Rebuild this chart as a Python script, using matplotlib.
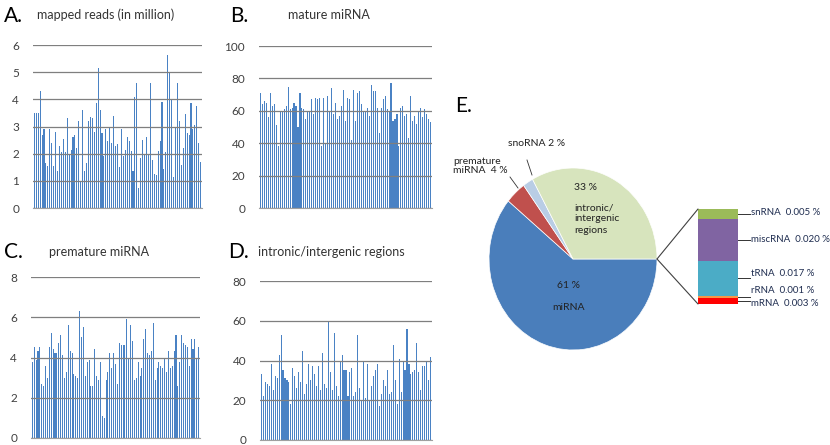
import numpy as np
import matplotlib.pyplot as plt
from matplotlib.patches import ConnectionPatch

plt.rcParams['font.family'] = ['Lato', 'DejaVu Sans']

# per-sample values
mapped_reads = [3.5, 3.5, 3.5, 4.3, 2.7, 2.9, 1.65, 1.55, 2.9, 2.4,
                1.55, 2.8, 1.35, 2.3, 2.05, 2.55, 2.05, 3.3, 2.0, 2.15,
                2.6, 2.7, 2.2, 3.2, 1.0, 3.6, 1.35, 1.65, 3.2, 3.35,
                3.3, 2.8, 3.85, 5.15, 3.6, 2.75, 1.9, 2.9, 2.45, 3.0,
                2.4, 3.4, 2.3, 2.35, 1.5, 2.9, 1.9, 2.15, 2.6, 2.45,
                2.1, 1.35, 4.1, 4.6, 0.75, 1.85, 2.5, 2.0, 2.6, 2.0,
                4.6, 1.75, 1.25, 1.2, 2.1, 2.45, 3.9, 1.45, 2.05, 5.65,
                5.0, 4.0, 1.15, 3.0, 4.6, 3.2, 1.6, 2.2, 3.45, 2.75,
                2.7, 3.85, 2.9, 3.05, 3.75, 2.4, 1.7]

mature_mirna = [71, 64, 66, 65, 56, 71, 63, 64, 51, 38,
                59, 60, 61, 63, 75, 61, 62, 65, 63, 50,
                71, 62, 61, 55, 60, 59, 67, 58, 68, 67,
                68, 38, 68, 40, 69, 60, 74, 58, 65, 55,
                57, 63, 73, 54, 68, 67, 42, 73, 54, 71,
                72, 64, 60, 60, 62, 57, 76, 72, 72, 62,
                46, 62, 67, 69, 61, 59, 77, 54, 55, 58,
                38, 62, 63, 57, 58, 43, 69, 54, 57, 52,
                60, 62, 56, 61, 58, 55, 53]

premature_mirna = [3.8, 4.5, 3.9, 4.3, 4.5, 2.7, 2.6, 3.6, 3.0, 4.5,
                   5.2, 4.4, 4.2, 4.2, 4.7, 5.1, 4.1, 3.0, 3.3, 5.6,
                   4.3, 4.2, 3.2, 3.1, 3.0, 6.3, 5.0, 5.5, 3.1, 3.8,
                   3.9, 2.6, 2.6, 4.4, 3.1, 2.9, 3.8, 1.1, 1.0, 2.9,
                   3.3, 4.2, 3.5, 4.2, 3.7, 2.7, 4.7, 4.6, 4.6, 4.6,
                   5.9, 4.0, 5.6, 4.8, 2.9, 3.0, 3.8, 3.1, 3.5, 4.9,
                   5.4, 4.2, 4.1, 4.3, 5.7, 2.9, 3.5, 3.8, 3.6, 3.5,
                   4.0, 3.3, 4.3, 3.5, 3.6, 4.3, 5.1, 2.6, 3.8, 5.1,
                   4.7, 4.6, 4.5, 3.6, 4.9, 4.4, 4.9, 4.0, 4.5]

intronic = [33, 22, 29, 28, 27, 38, 25, 32, 31, 43,
            53, 35, 31, 30, 29, 18, 36, 32, 26, 34,
            29, 45, 23, 28, 38, 30, 37, 33, 27, 37,
            25, 44, 28, 26, 60, 34, 25, 54, 27, 22,
            39, 43, 35, 35, 22, 34, 36, 22, 24, 53,
            26, 20, 40, 21, 38, 20, 27, 32, 35, 38,
            17, 23, 30, 27, 35, 23, 24, 48, 30, 18,
            41, 24, 39, 35, 56, 38, 33, 34, 35, 49,
            34, 25, 37, 37, 40, 30, 42]

# pie of read classes (%)
pie_labels = ['miRNA', 'premature miRNA', 'snoRNA', 'intronic/intergenic regions']
pie_values = [61, 4, 2, 33]
pie_colors = ['#4a7ebb', '#c0504d', '#b9cde5', '#d7e4bd']

# breakdown of the small classes (%), bottom to top
other_labels = ['mRNA', 'rRNA', 'tRNA', 'miscRNA', 'snRNA']
other_values = [0.003, 0.001, 0.017, 0.020, 0.005]
other_colors = ['#ff0000', '#f79646', '#4bacc6', '#8064a2', '#9bbb59']

W, H = 830, 445
fig = plt.figure(figsize=(W / 100, H / 100), dpi=100)


def px_axes(left, top, right, bottom):
    # axes placed by pixel edges of the 830x445 canvas
    return fig.add_axes([left / W, 1 - bottom / H, (right - left) / W, (bottom - top) / H])


def px_text(x, y, s, **kw):
    fig.text(x / W, 1 - y / H, s, **kw)


def draw_bars(ax, values, ymax, step):
    x = np.arange(len(values))
    ax.bar(x, values, width=0.55, color='#4a82c4', zorder=1, antialiased=False)
    ax.set_xlim(-0.7, len(values) - 0.3)
    ax.set_ylim(0, ymax)
    ax.set_yticks(np.arange(0, ymax + 1, step))
    ax.set_xticks([])
    ax.set_axisbelow(False)
    ax.yaxis.grid(True, color='#7f7f7f', lw=0.9)
    for side in ['top', 'right', 'left']:
        ax.spines[side].set_visible(False)
    ax.spines['bottom'].set_color('#a0a0a0')
    ax.tick_params(axis='y', length=0, labelsize=8.5, labelcolor='#404040', pad=10)


ax_a = px_axes(33, 45, 202, 208)
draw_bars(ax_a, mapped_reads, 6, 1)
ax_b = px_axes(259, 46, 432, 208)
draw_bars(ax_b, mature_mirna, 100, 20)
ax_c = px_axes(31, 277, 200, 438)
draw_bars(ax_c, premature_mirna, 8, 2)
ax_d = px_axes(260, 281, 432, 440)
draw_bars(ax_d, intronic, 80, 20)

px_text(4, 16, 'A.', fontsize=15, va='center')
px_text(37, 15, 'mapped reads (in million)', fontsize=9, va='center', color='#333333')
px_text(230, 16, 'B.', fontsize=15, va='center')
px_text(288, 15, 'mature miRNA', fontsize=9, va='center', color='#333333')
px_text(4, 252, 'C.', fontsize=15, va='center')
px_text(49, 252, 'premature miRNA', fontsize=9, va='center', color='#333333')
px_text(228, 252, 'D.', fontsize=15, va='center')
px_text(258, 252, 'intronic/intergenic regions', fontsize=9, va='center', color='#333333')
px_text(455, 106, 'E.', fontsize=15, va='center')

# pie (slightly taller than wide, like the source image)
ax_e = px_axes(489, 168, 657, 350)
ax_e.pie(pie_values, colors=pie_colors, startangle=0, counterclock=False,
         wedgeprops=dict(edgecolor='white', linewidth=0.5))
ax_e.set_aspect('auto')
ax_e.set_xlim(-1, 1)
ax_e.set_ylim(-1, 1)

pie_kw = dict(fontsize=7.5, color='#222222')
px_text(568, 286, '61 %', ha='center', va='center', **pie_kw)
px_text(568, 307, 'miRNA', ha='center', va='center', **pie_kw)
px_text(574, 188, '33 %', ha='left', va='center', **pie_kw)
px_text(574, 203, 'intronic/\nintergenic\nregions', ha='left', va='top',
        linespacing=1.35, **pie_kw)
px_text(508, 143, 'snoRNA 2 %', ha='left', va='center', **pie_kw)
px_text(453, 166, 'premature\nmiRNA  4 %', ha='left', va='center', linespacing=1.1, **pie_kw)
fig.add_artist(plt.Line2D([527 / W, 532 / W], [1 - 160 / H, 1 - 175 / H], color='#333333', lw=0.6))
fig.add_artist(plt.Line2D([510 / W, 518 / W], [1 - 177 / H, 1 - 188 / H], color='#333333', lw=0.6))

# stacked bar for the small classes
total = sum(other_values)
ax_s = px_axes(698, 209, 738, 304)
bottoms = np.cumsum([0] + other_values[:-1])
ax_s.bar(0, other_values, bottom=bottoms, width=1, color=other_colors)
ax_s.set_xlim(-0.5, 0.5)
ax_s.set_ylim(0, total)
ax_s.axis('off')

label_shift = [-0.0015, 0.003, 0.0025, 0.0, 0.001]
for lab, val, b, sh in zip(other_labels, other_values, bottoms, label_shift):
    mid = b + val / 2
    ax_s.plot([0.5, 0.8], [mid, mid], color='#333333', lw=0.7, clip_on=False)
    ax_s.text(0.83, mid + sh, '%s  %.3f %%' % (lab, val), fontsize=7,
              color='#1f2d50', va='center', ha='left', clip_on=False)

for yb in [total, 0]:
    con = ConnectionPatch(xyA=(1, 0), coordsA=ax_e.transData,
                          xyB=(-0.5, yb), coordsB=ax_s.transData,
                          color='#404040', lw=0.8)
    fig.add_artist(con)

fig.savefig('out.png', dpi=100)
